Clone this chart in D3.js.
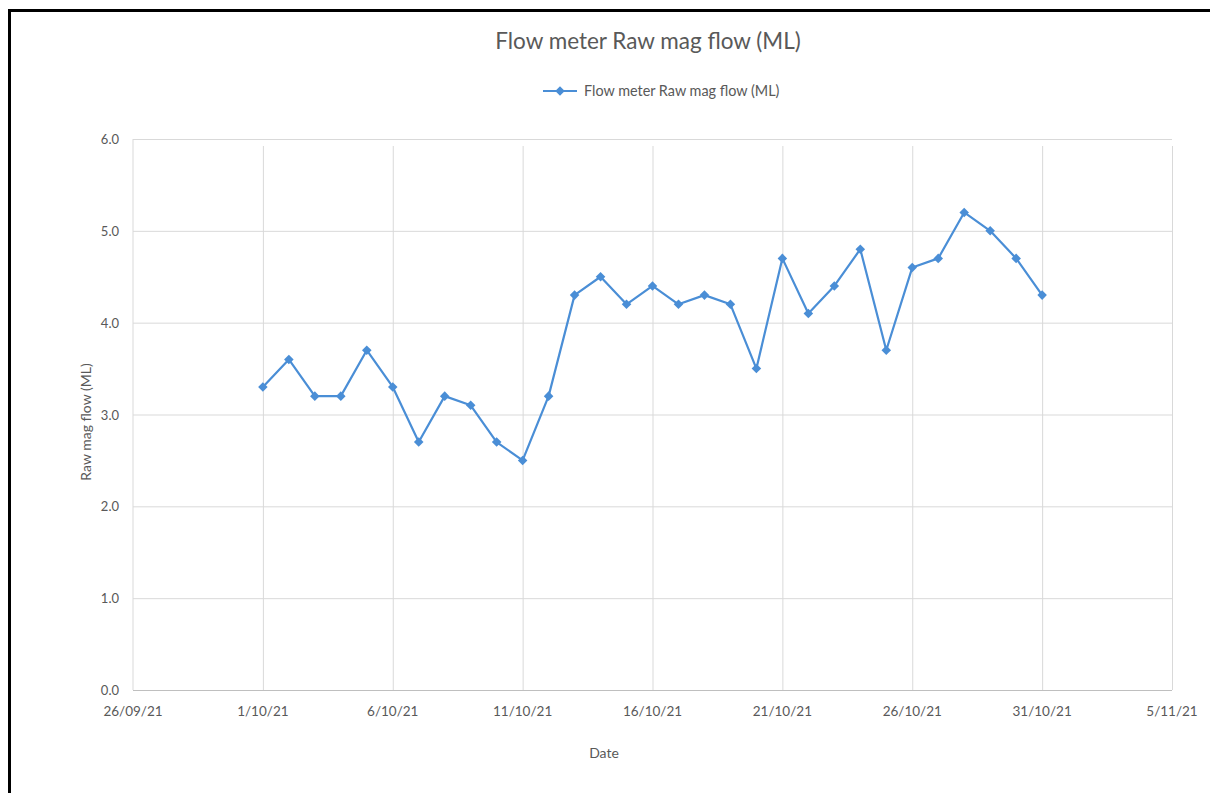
<!DOCTYPE html>
<html>
<head>
<meta charset="utf-8">
<script src="https://cdn.jsdelivr.net/npm/d3@7"></script>
<style>
  html, body { margin: 0; padding: 0; background: #fff; }
  svg { display: block; }
  text { font-family: Lato, "Open Sans", sans-serif; fill: #595959; }
</style>
</head>
<body>
<svg id="chart" width="1210" height="793"></svg>
<script>
// Daily readings, October 2021
const dates = ["2021-10-01","2021-10-02","2021-10-03","2021-10-04","2021-10-05","2021-10-06",
  "2021-10-07","2021-10-08","2021-10-09","2021-10-10","2021-10-11","2021-10-12","2021-10-13",
  "2021-10-14","2021-10-15","2021-10-16","2021-10-17","2021-10-18","2021-10-19","2021-10-20",
  "2021-10-21","2021-10-22","2021-10-23","2021-10-24","2021-10-25","2021-10-26","2021-10-27",
  "2021-10-28","2021-10-29","2021-10-30","2021-10-31"];
const flowML = [3.3, 3.6, 3.2, 3.2, 3.7, 3.3, 2.7, 3.2, 3.1, 2.7, 2.5, 3.2, 4.3,
  4.5, 4.2, 4.4, 4.2, 4.3, 4.2, 3.5, 4.7, 4.1, 4.4, 4.8, 3.7, 4.6, 4.7,
  5.2, 5.0, 4.7, 4.3];
const xTickDates = ["2021-09-26","2021-10-01","2021-10-06","2021-10-11","2021-10-16",
  "2021-10-21","2021-10-26","2021-10-31","2021-11-05"];
const yTicks = [0, 1, 2, 3, 4, 5, 6];

const chartTitle = "Flow meter Raw mag flow (ML)";
const seriesName = "Flow meter Raw mag flow (ML)";
const xTitle = "Date";
const yTitle = "Raw mag flow (ML)";

const parse = d3.utcParse("%Y-%m-%d");
const data = dates.map((d, i) => ({ date: parse(d), value: flowML[i] }));
const tickDates = xTickDates.map(parse);

const svg = d3.select("#chart");
const plot = { left: 133, right: 1172, top: 139, bottom: 690 };

const x = d3.scaleUtc()
  .domain([tickDates[0], tickDates[tickDates.length - 1]])
  .range([plot.left, plot.right]);
const y = d3.scaleLinear().domain([0, 6]).range([plot.bottom, plot.top]);

// outer frame
svg.append("path")
  .attr("d", "M9.5,800 V10.5 H1215")
  .attr("fill", "none").attr("stroke", "#000").attr("stroke-width", 3);

// gridlines
svg.append("g")
  .attr("transform", `translate(${plot.left},0)`)
  .call(d3.axisLeft(y).tickValues(yTicks).tickSize(-(plot.right - plot.left)).tickFormat(""))
  .call(g => g.select(".domain").remove())
  .call(g => g.selectAll("line").attr("stroke", "#d9d9d9"));

svg.append("g")
  .attr("transform", `translate(0,${plot.bottom})`)
  .call(d3.axisBottom(x).tickValues(tickDates.slice(1)).tickSize(-(plot.bottom - plot.top - 7)).tickFormat(""))
  .call(g => g.select(".domain").remove())
  .call(g => g.selectAll("line").attr("stroke", "#d9d9d9"));

// axis lines
svg.append("line")
  .attr("x1", plot.left).attr("x2", plot.left)
  .attr("y1", plot.top).attr("y2", plot.bottom)
  .attr("stroke", "#d9d9d9");
svg.append("line")
  .attr("x1", plot.left).attr("x2", plot.right)
  .attr("y1", plot.bottom + 0.5).attr("y2", plot.bottom + 0.5)
  .attr("stroke", "#bfbfbf");

// y tick labels
svg.append("g").selectAll("text").data(yTicks).join("text")
  .attr("x", 119).attr("y", d => y(d) + 5)
  .attr("text-anchor", "end")
  .attr("font-size", 13)
  .text(d => d.toFixed(1));

// x tick labels
const septLabel = d3.utcFormat("%-d/%m/%y");
const otherLabel = d3.utcFormat("%-d/%-m/%y");
svg.append("g").selectAll("text").data(tickDates).join("text")
  .attr("x", d => x(d)).attr("y", 716)
  .attr("text-anchor", "middle")
  .attr("font-size", 13.5)
  .text(d => d.getUTCMonth() === 8 ? septLabel(d) : otherLabel(d));

// axis titles
svg.append("text")
  .attr("x", 604).attr("y", 758)
  .attr("text-anchor", "middle").attr("font-size", 14)
  .text(xTitle);
svg.append("text")
  .attr("transform", `translate(91,422) rotate(-90)`)
  .attr("text-anchor", "middle").attr("font-size", 14)
  .text(yTitle);

// title
svg.append("text")
  .attr("x", 648).attr("y", 49)
  .attr("text-anchor", "middle").attr("font-size", 22.5)
  .text(chartTitle);

const lineColor = "#4a8ed6";
const diamond = d3.symbol().type(d3.symbolDiamond2).size(58);

// legend
const lg = svg.append("g").attr("transform", "translate(543,91)");
lg.append("line").attr("x1", 0).attr("x2", 34).attr("y1", 0).attr("y2", 0)
  .attr("stroke", lineColor).attr("stroke-width", 2);
lg.append("path").attr("d", diamond()).attr("transform", "translate(17,0)").attr("fill", lineColor);
lg.append("text").attr("x", 41).attr("y", 5).attr("font-size", 14.4).text(seriesName);

// series
svg.append("path")
  .datum(data)
  .attr("fill", "none")
  .attr("stroke", lineColor)
  .attr("stroke-width", 2.2)
  .attr("stroke-linejoin", "round")
  .attr("d", d3.line().x(d => x(d.date)).y(d => y(d.value)));

svg.append("g").selectAll("path").data(data).join("path")
  .attr("d", diamond())
  .attr("transform", d => `translate(${x(d.date)},${y(d.value)})`)
  .attr("fill", lineColor);
</script>
</body>
</html>
